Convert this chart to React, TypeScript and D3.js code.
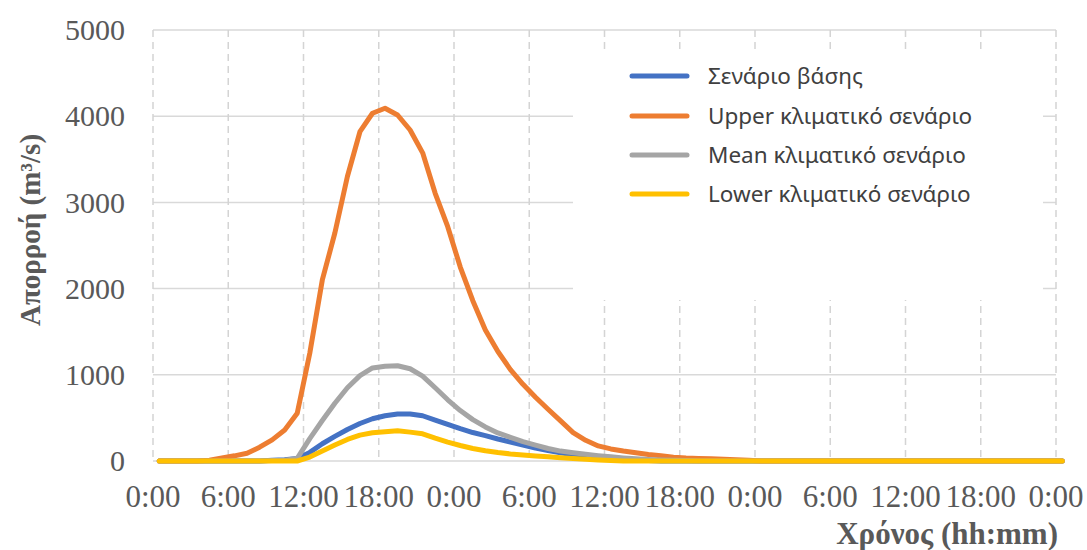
import React from "react";
import * as d3 from "d3";

// Hourly runoff hydrographs (m³/s); sample k sits at hour k + 0.5 over three days.
const hours: number[] = d3.range(0.5, 73, 1);

const baseScenario = [
  0, 0, 0, 0, 0, 0, 0, 0, 0, 10, 15, 30, 100, 200, 285, 365, 435, 490, 525, 545,
  545, 525, 475, 425, 375, 330, 295, 255, 220, 185, 150, 120, 95, 72, 55, 42, 30, 20, 12, 6,
  0, 0, 0, 0, 0, 0, 0, 0, 0, 0, 0, 0, 0, 0, 0, 0, 0, 0, 0, 0,
  0, 0, 0, 0, 0, 0, 0, 0, 0, 0, 0, 0, 0,
];
const upperScenario = [
  0, 0, 0, 0, 10, 35, 60, 90, 160, 245, 360, 553, 1250, 2100, 2645, 3300, 3820, 4034, 4092, 4014,
  3840, 3575, 3105, 2718, 2250, 1860, 1520, 1270, 1060, 890, 740, 600, 465, 330, 240, 175, 140, 115, 95, 75,
  60, 45, 35, 30, 25, 20, 15, 10, 0, 0, 0, 0, 0, 0, 0, 0, 0, 0, 0, 0,
  0, 0, 0, 0, 0, 0, 0, 0, 0, 0, 0, 0, 0,
];
const meanScenario = [
  0, 0, 0, 0, 0, 0, 0, 0, 0, 5, 10, 30, 260, 470, 670, 850, 990, 1080, 1100, 1105,
  1070, 985, 850, 710, 585, 480, 395, 325, 275, 225, 185, 145, 115, 95, 78, 62, 48, 36, 26, 18,
  12, 8, 5, 0, 0, 0, 0, 0, 0, 0, 0, 0, 0, 0, 0, 0, 0, 0, 0, 0,
  0, 0, 0, 0, 0, 0, 0, 0, 0, 0, 0, 0, 0,
];
const lowerScenario = [
  0, 0, 0, 0, 0, 0, 0, 0, 0, 0, 0, 0, 45, 115, 185, 250, 300, 328, 340, 350,
  335, 315, 265, 220, 180, 145, 118, 98, 82, 70, 58, 48, 38, 28, 20, 12, 6, 0, 0, 0,
  0, 0, 0, 0, 0, 0, 0, 0, 0, 0, 0, 0, 0, 0, 0, 0, 0, 0, 0, 0,
  0, 0, 0, 0, 0, 0, 0, 0, 0, 0, 0, 0, 0,
];

const seriesNames = [
  "Σενάριο βάσης",
  "Upper κλιματικό σενάριο",
  "Mean κλιματικό σενάριο",
  "Lower κλιματικό σενάριο",
];
const seriesValues = [baseScenario, upperScenario, meanScenario, lowerScenario];
const seriesColors = ["#4472C4", "#ED7D31", "#A5A5A5", "#FFC000"];

const xTickHours = [0, 6, 12, 18, 24, 30, 36, 42, 48, 54, 60, 66, 72];
const xTickLabels = ["0:00", "6:00", "12:00", "18:00", "0:00", "6:00", "12:00", "18:00", "0:00", "6:00", "12:00", "18:00", "0:00"];
const yTicks = [0, 1000, 2000, 3000, 4000, 5000];

const yTitle = "Απορροή (m³/s)";
const xTitle = "Χρόνος (hh:mm)";

const W = 1087;
const H = 550;
const plot = { left: 153, right: 1056, top: 30, bottom: 461 };

const serif = "'Liberation Serif', 'Times New Roman', serif";
const sans = "'Noto Sans', 'Open Sans', sans-serif";

export default function App() {
  const x = d3.scaleLinear().domain([0, 72]).range([plot.left, plot.right]);
  const y = d3.scaleLinear().domain([0, 5000]).range([plot.bottom, plot.top]);

  const line = d3
    .line<number>()
    .x((_, i) => x(hours[i]))
    .y((v) => y(v));

  const legend = { x: 573, y: 52, w: 470, h: 248 };
  const legendRows = [76, 116, 155, 194];

  return (
    <svg width={W} height={H} style={{ position: "absolute", left: 0, top: 0, background: "#fff" }}>
      <rect x={0} y={0} width={W} height={H} fill="#fff" />

      {/* horizontal gridlines */}
      {yTicks.map((t) => (
        <line key={"h" + t} x1={plot.left} x2={plot.right} y1={y(t)} y2={y(t)} stroke="#d9d9d9" strokeWidth={1.5} />
      ))}
      {/* vertical dashed gridlines */}
      {xTickHours.map((h, i) => (
        <line
          key={"v" + i}
          x1={x(h)}
          x2={x(h)}
          y1={plot.top}
          y2={plot.bottom}
          stroke="#d4d4d4"
          strokeWidth={1.5}
          strokeDasharray="7,5"
        />
      ))}

      {/* legend panel */}
      <rect x={legend.x} y={legend.y} width={legend.w} height={legend.h} fill="#fff" />

      {/* series */}
      {seriesValues.map((vals, s) => (
        <path
          key={"s" + s}
          d={line(vals) || ""}
          fill="none"
          stroke={seriesColors[s]}
          strokeWidth={5}
          strokeLinejoin="round"
          strokeLinecap="round"
        />
      ))}

      {/* y tick labels */}
      {yTicks.map((t) => (
        <text
          key={"yl" + t}
          x={125}
          y={y(t)}
          dy="0.34em"
          textAnchor="end"
          fontFamily={serif}
          fontSize={30}
          fill="#595959"
        >
          {t}
        </text>
      ))}

      {/* x tick labels */}
      {xTickHours.map((h, i) => (
        <text
          key={"xl" + i}
          x={x(h)}
          y={507}
          textAnchor="middle"
          fontFamily={serif}
          fontSize={31}
          fill="#595959"
        >
          {xTickLabels[i]}
        </text>
      ))}

      {/* axis titles */}
      <text
        transform={`translate(40, 230) rotate(-90)`}
        textAnchor="middle"
        fontFamily={serif}
        fontWeight="bold"
        fontSize={29}
        fill="#595959"
      >
        {yTitle}
      </text>
      <text x={1058} y={544} textAnchor="end" fontFamily={serif} fontWeight="bold" fontSize={31} fill="#595959">
        {xTitle}
      </text>

      {/* legend entries */}
      {seriesNames.map((name, i) => (
        <g key={"lg" + i}>
          <line
            x1={632}
            x2={687}
            y1={legendRows[i]}
            y2={legendRows[i]}
            stroke={seriesColors[i]}
            strokeWidth={5}
            strokeLinecap="round"
          />
          <text x={708} y={legendRows[i]} dy="0.35em" fontFamily={sans} fontSize={22.5} fill="#404040">
            {name}
          </text>
        </g>
      ))}
    </svg>
  );
}
